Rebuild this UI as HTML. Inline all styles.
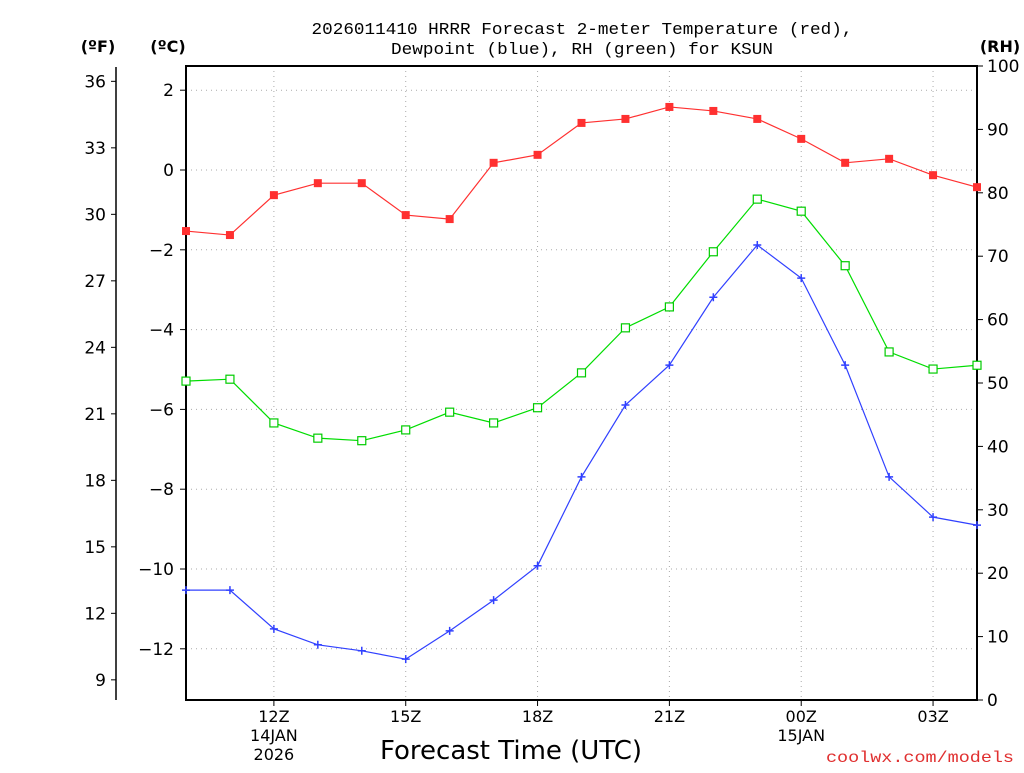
<!DOCTYPE html>
<html><head><meta charset="utf-8"><style>
html,body{margin:0;padding:0;background:#fff;}
svg text{font-family:"DejaVu Sans","Liberation Sans",sans-serif;}
</style></head><body>
<svg id="chart" width="1024" height="768" xmlns="http://www.w3.org/2000/svg">
<g id="grid"></g>
<g id="axes"></g>
<g id="series"></g>
<text x="582" y="34" text-anchor="middle" style="font-family:'Liberation Mono',monospace;font-size:17px" textLength="541" lengthAdjust="spacingAndGlyphs">2026011410 HRRR Forecast 2-meter Temperature (red),</text>
<text x="582" y="54" text-anchor="middle" style="font-family:'Liberation Mono',monospace;font-size:17px" textLength="382" lengthAdjust="spacingAndGlyphs">Dewpoint (blue), RH (green) for KSUN</text>
<text x="98" y="52" text-anchor="middle" font-size="16" font-weight="bold">(ºF)</text>
<text x="168" y="52" text-anchor="middle" font-size="16" font-weight="bold">(ºC)</text>
<text x="1000" y="52" text-anchor="middle" font-size="16" font-weight="bold">(RH)</text>
<text x="511" y="759" text-anchor="middle" font-size="26">Forecast Time (UTC)</text>
<text x="1014" y="762" text-anchor="end" fill="#e03030" style="font-family:'Liberation Mono',monospace;font-size:16px" textLength="188" lengthAdjust="spacingAndGlyphs">coolwx.com/models</text>
</svg>
<script>
const hours = [10,11,12,13,14,15,16,17,18,19,20,21,22,23,24,25,26,27,28];
const tempC = [-1.53,-1.63,-0.63,-0.33,-0.33,-1.13,-1.23,0.18,0.38,1.18,1.28,1.58,1.48,1.28,0.78,0.18,0.28,-0.13,-0.43];
const dewC = [-10.53,-10.53,-11.5,-11.9,-12.05,-12.26,-11.55,-10.78,-9.92,-7.69,-5.89,-4.89,-3.19,-1.88,-2.71,-4.89,-7.69,-8.70,-8.90];
const rh = [50.3,50.6,43.7,41.3,40.9,42.6,45.4,43.7,46.1,51.6,58.7,62.0,70.7,79.0,77.1,68.5,54.9,52.2,52.8];
const cTicks = [2,0,-2,-4,-6,-8,-10,-12];
const fTicks = [36,33,30,27,24,21,18,15,12,9];
const rhTicks = [0,10,20,30,40,50,60,70,80,90,100];
const xTickHours = [12,15,18,21,24,27];
const xTickLabels = ["12Z","15Z","18Z","21Z","00Z","03Z"];
const xTickSub = {12:["14JAN","2026"],24:["15JAN"]};

const L=186,R=977,T=66,B=700;
const xs=h=>L+(h-10)*(R-L)/18;
const yc=c=>170-c*39.9;
const yf=f=>yc((f-32)*5/9);
const yr=r=>B-r*(B-T)/100;
const NS="http://www.w3.org/2000/svg";
function mk(tag,attrs,parent){const e=document.createElementNS(NS,tag);for(const k in attrs)e.setAttribute(k,attrs[k]);parent.appendChild(e);return e;}
const grid=document.getElementById('grid'),axes=document.getElementById('axes'),series=document.getElementById('series');

cTicks.forEach(c=>{
  const g=mk('line',{x1:L,x2:R,y1:yc(c),y2:yc(c),stroke:'#aaa','stroke-dasharray':'1,4'},grid);
  
  
  const t=mk('line',{x1:L-6,x2:L,y1:yc(c),y2:yc(c),stroke:'#000'},axes);
  
  
  const tx=mk('text',{x:L-12,y:yc(c)+6,'text-anchor':'end','font-size':'17'},axes);
  tx.textContent=(c<0?'\u2212'+(-c):c);
  
  
});
xTickHours.forEach((h,i)=>{
  const g=mk('line',{x1:xs(h),x2:xs(h),y1:T,y2:B,stroke:'#aaa','stroke-dasharray':'1,4'},grid);
  
  
  const t=mk('line',{x1:xs(h),x2:xs(h),y1:B,y2:B+6,stroke:'#000'},axes);
  
  
  const lines=[xTickLabels[i]].concat(xTickSub[h]||[]);
  lines.forEach((s,j)=>{
    const tx=mk('text',{x:xs(h),y:722+j*19,'text-anchor':'middle','font-size':'16'},axes);
    tx.textContent=s;
    
    
  });
});
const fa=mk('line',{x1:116,x2:116,y1:67,y2:B,stroke:'#000','stroke-width':1.5},axes);


fTicks.forEach(f=>{
  const t=mk('line',{x1:111,x2:116,y1:yf(f),y2:yf(f),stroke:'#000'},axes);
  
  
  const tx=mk('text',{x:106,y:yf(f)+6,'text-anchor':'end','font-size':'17'},axes);
  tx.textContent=f;
  
  
});
rhTicks.forEach(r=>{
  const t=mk('line',{x1:R,x2:R+6,y1:yr(r),y2:yr(r),stroke:'#000'},axes);
  
  
  const tx=mk('text',{x:R+10,y:yr(r)+6,'font-size':'17'},axes);
  tx.textContent=r;
  
  
});
const fr=mk('rect',{x:L,y:T,width:R-L,height:B-T,fill:'none',stroke:'#000','stroke-width':2},axes);



function line(vals,yfn,color,name){
  const p=mk('polyline',{points:vals.map((v,i)=>xs(hours[i])+','+yfn(v)).join(' '),fill:'none',stroke:color,'stroke-width':1.2},series);
  
  
}
line(tempC,yc,'#ff3030','temperature');
line(dewC,yc,'#3040ff','dewpoint');
line(rh,yr,'#00dd00','rh');
tempC.forEach((v,i)=>{
  const m=mk('rect',{x:xs(hours[i])-4,y:yc(v)-4,width:8,height:8,fill:'#ff3030'},series);
  
  
});
rh.forEach((v,i)=>{
  const m=mk('rect',{x:xs(hours[i])-4,y:yr(v)-4,width:8,height:8,fill:'#fff',stroke:'#00cc00','stroke-width':1.2},series);
  
  
});
dewC.forEach((v,i)=>{
  const x=xs(hours[i]),y=yc(v);
  const m=mk('path',{d:`M${x-4},${y}H${x+4}M${x},${y-4}V${y+4}`,stroke:'#3040ff','stroke-width':1.5},series);
  
  
});
</script>
</body></html>
